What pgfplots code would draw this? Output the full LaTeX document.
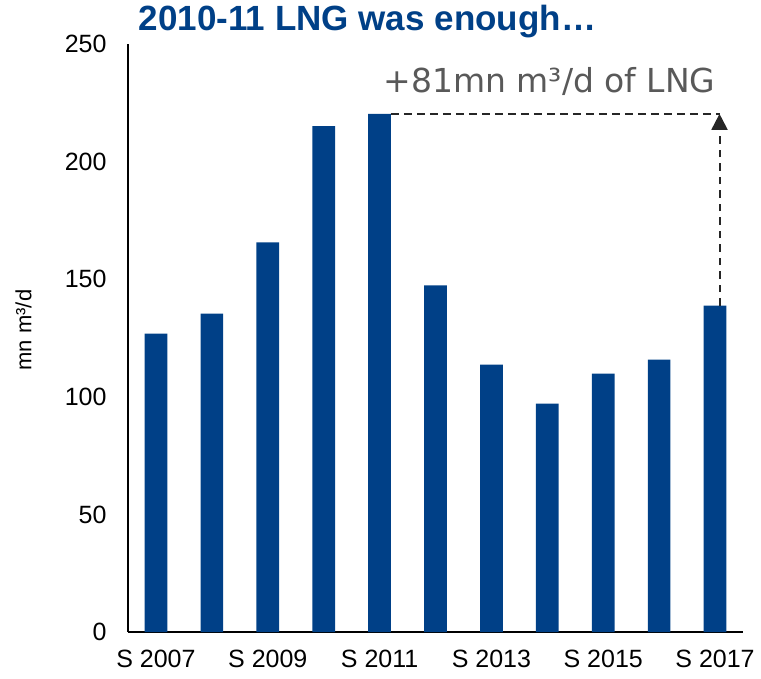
\documentclass[border=0pt]{standalone}
\usepackage{fontspec}
\setmainfont{Liberation Sans}
\newfontfamily\annfont{DejaVu Sans}
\usepackage{pgfplots}
\pgfplotsset{compat=1.18}
\usetikzlibrary{arrows.meta}
\definecolor{barblue}{RGB}{0,64,135}
\definecolor{anngray}{RGB}{89,89,89}
\definecolor{dashgray}{RGB}{38,38,38}
\begin{document}
\begin{tikzpicture}
\path[use as bounding box] (-128bp,-47bp) rectangle (633bp,632bp);
\begin{axis}[
  at={(0,0)}, anchor=south west,
  scale only axis,
  width=615bp, height=588bp,
  xmin=-0.5, xmax=10.5,
  ymin=0, ymax=250,
  axis x line=bottom, axis y line=left,
  axis line style={-, line width=2.2bp, black},
  xtick={0,2,4,6,8,10},
  xticklabels={S 2007,S 2009,S 2011,S 2013,S 2015,S 2017},
  ytick={0,50,100,150,200,250},
  major tick length=0pt,
  tick style={draw=none},
  ticklabel style={font=\fontsize{25bp}{30bp}\selectfont},
  yticklabel style={xshift=-18bp},
  xticklabel style={yshift=-15bp},
  /pgf/number format/assume math mode=true,
  ylabel={mn m³/d},
  every axis y label/.style={at={(-104.5bp,302bp)}, rotate=90, anchor=center,
     font=\fontsize{22bp}{26bp}\selectfont},
  clip=false,
]
\addplot[ybar, bar width=0.406, fill=barblue, draw=none]
  coordinates {(0,126.9) (1,135.4) (2,165.7) (3,215.1) (4,220.3) (5,147.4)
               (6,113.7) (7,97.1) (8,109.9) (9,115.8) (10,138.8)};
\addplot[dashgray, line width=2bp, dash pattern=on 8bp off 5bp]
  coordinates {(4.2,220.3) (10.08,220.3)};
\addplot[dashgray, line width=2bp, dash pattern=on 7.5bp off 6bp,
  -{Triangle[width=16bp,length=16bp]}]
  coordinates {(10.08,138.8) (10.08,220.3)};
\node[anchor=base, text=anngray, font=\annfont\fontsize{33bp}{38bp}\selectfont]
  at (axis cs:7.04,229.3) {+81mn m³/d of LNG};
\end{axis}
\node[text=barblue, font=\bfseries\fontsize{35bp}{41bp}\selectfont] at (239.5bp,610bp) {2010-11 LNG was enough…};
\end{tikzpicture}
\end{document}
